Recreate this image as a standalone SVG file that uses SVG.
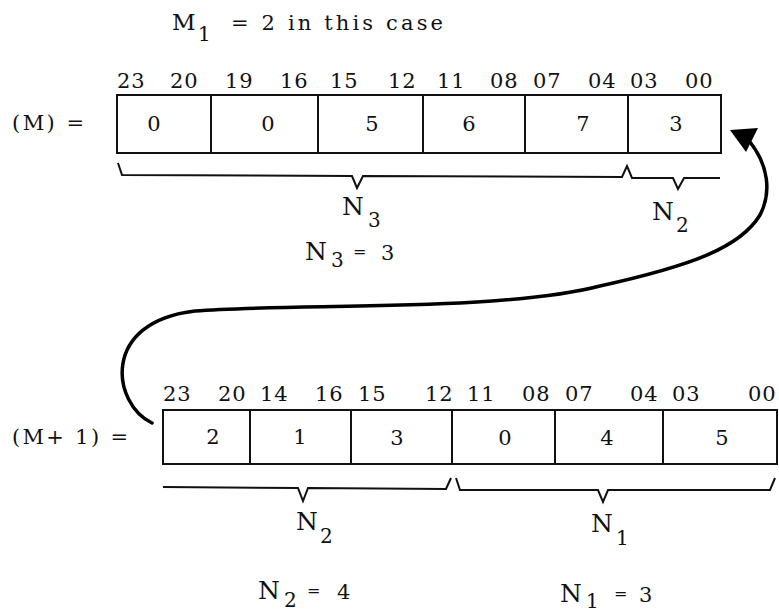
<svg xmlns="http://www.w3.org/2000/svg" width="779" height="612" viewBox="0 0 779 612">
<style>
text{font-family:"DejaVu Serif","Liberation Serif",serif;fill:#111}
.b{font-size:21px}
.v{font-size:21px;text-anchor:middle}
.n{font-size:25px}
.s{font-size:20px}
.e{font-size:16px}
.box{fill:#fff;stroke:#111;stroke-width:2}
.ln{stroke:#111;stroke-width:2;fill:none}
.br{stroke:#111;stroke-width:2;fill:none;stroke-linejoin:miter}
.cv{stroke:#000;stroke-width:3.5;fill:none;stroke-linecap:round}
</style>
<rect width="779" height="612" fill="#fff"/>

<g id="title" font-family="DejaVu Serif, serif">
<text class="n" x="172" y="30" style="font-size:23px">M</text>
<text class="s" x="198" y="41">1</text>
<text class="b" x="231" y="30" textLength="212" lengthAdjust="spacing">= 2 in this case</text>
</g>

<g id="wordM" font-family="DejaVu Serif, serif">
<text class="b" x="12" y="130" textLength="72" lengthAdjust="spacing">(M) =</text>
<rect class="box" x="117" y="95" width="604" height="58"/>
<path class="ln" d="M211,95V153M318,95V153M423,95V153M525,95V153M628,95V153"/>
<text class="b" x="117" y="88" letter-spacing="1">23</text>
<text class="b" x="170" y="88" letter-spacing="1">20</text>
<text class="b" x="225" y="88" letter-spacing="1">19</text>
<text class="b" x="280" y="88" letter-spacing="1">16</text>
<text class="b" x="330" y="88" letter-spacing="1">15</text>
<text class="b" x="388" y="88" letter-spacing="1">12</text>
<text class="b" x="437" y="88" letter-spacing="1">11</text>
<text class="b" x="490" y="88" letter-spacing="1">08</text>
<text class="b" x="533" y="88" letter-spacing="1">07</text>
<text class="b" x="588" y="88" letter-spacing="1">04</text>
<text class="b" x="630" y="88" letter-spacing="1">03</text>
<text class="b" x="685" y="88" letter-spacing="1">00</text>
<text class="v" x="154" y="131">0</text>
<text class="v" x="268" y="131">0</text>
<text class="v" x="372" y="131">5</text>
<text class="v" x="469" y="131">6</text>
<text class="v" x="583" y="131">7</text>
<text class="v" x="676" y="131">3</text>
</g>

<g id="braceM" font-family="DejaVu Serif, serif">
<path class="br" d="M118,163L122,175L352,176L357,188L363,176L622,177L627,166L632,178L673,178L678,189L684,178L720,178"/>
<text class="n" x="342" y="215">N</text><text class="s" x="368" y="227">3</text>
<text class="n" x="652" y="220">N</text><text class="s" x="676" y="232">2</text>
<text class="n" x="305" y="260">N</text><text class="s" x="331" y="267">3</text>
<text class="e" x="353" y="257">=</text><text class="b" x="381" y="260">3</text>
</g>

<g id="wordM1" font-family="DejaVu Serif, serif">
<text class="b" x="12" y="444" textLength="116" lengthAdjust="spacing">(M+ 1) =</text>
<rect class="box" x="163" y="410" width="614" height="54"/>
<path class="ln" d="M250,410V464M351,410V464M452,410V464M555,410V464M663,410V464"/>
<text class="b" x="163" y="401" letter-spacing="1">23</text>
<text class="b" x="218" y="401" letter-spacing="1">20</text>
<text class="b" x="260" y="401" letter-spacing="1">14</text>
<text class="b" x="315" y="401" letter-spacing="1">16</text>
<text class="b" x="358" y="401" letter-spacing="1">15</text>
<text class="b" x="425" y="401" letter-spacing="1">12</text>
<text class="b" x="467" y="401" letter-spacing="1">11</text>
<text class="b" x="522" y="401" letter-spacing="1">08</text>
<text class="b" x="565" y="401" letter-spacing="1">07</text>
<text class="b" x="630" y="401" letter-spacing="1">04</text>
<text class="b" x="672" y="401" letter-spacing="1">03</text>
<text class="b" x="748" y="401" letter-spacing="1">00</text>
<text class="v" x="213" y="444">2</text>
<text class="v" x="300" y="444">1</text>
<text class="v" x="397" y="445">3</text>
<text class="v" x="505" y="445">0</text>
<text class="v" x="607" y="445">4</text>
<text class="v" x="722" y="445">5</text>
</g>

<g id="braceM1" font-family="DejaVu Serif, serif">
<path class="br" d="M163,487L298,488L303,501L308,488L446,489L451,478"/>
<path class="br" d="M456,478L460,490L598,490L603,502L608,490L770,490L775,478"/>
<text class="n" x="296" y="530">N</text><text class="s" x="320" y="543">2</text>
<text class="n" x="591" y="532">N</text><text class="s" x="616" y="545">1</text>
<text class="n" x="258" y="599">N</text><text class="s" x="284" y="607">2</text>
<text class="e" x="307" y="596">=</text><text class="b" x="337" y="599">4</text>
<text class="n" x="560" y="602">N</text><text class="s" x="586" y="608">1</text>
<text class="e" x="614" y="599">=</text><text class="b" x="639" y="602">3</text>
</g>

<g id="connectors">
<path class="cv" d="M152,423C112,404 100,322 195,311C290,303 500,312 600,286C690,266 740,248 760,215C772,192 768,165 750,142"/>
<polygon points="730,130 758,128 746,152" fill="#000"/>
</g>
</svg>
